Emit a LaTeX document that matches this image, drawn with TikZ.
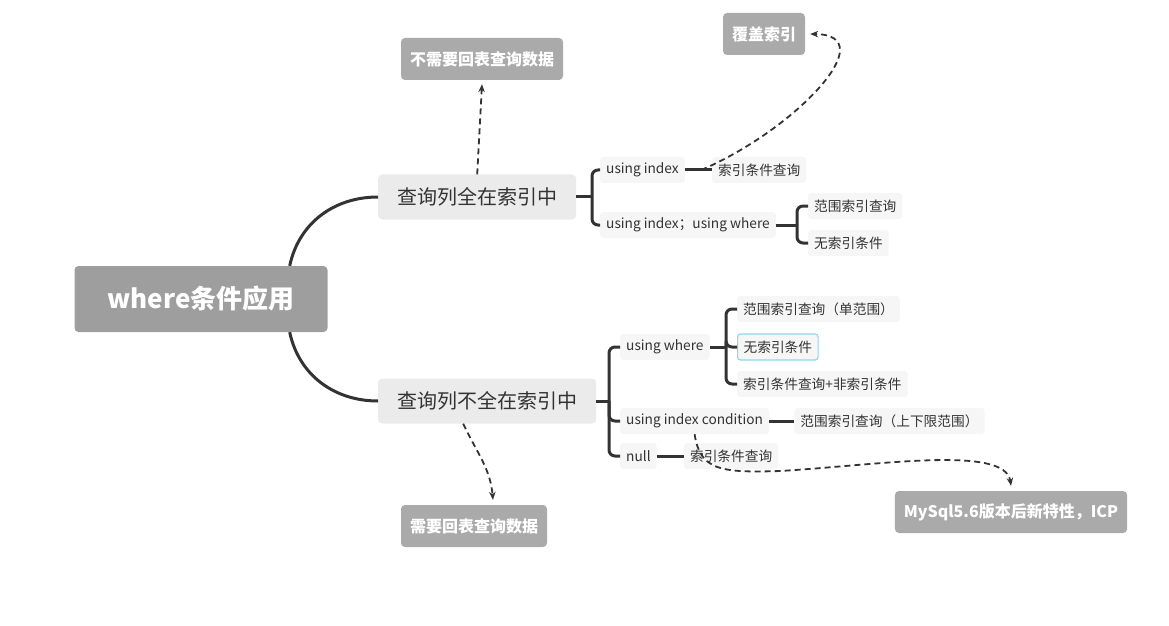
\documentclass[tikz,border=0pt]{standalone}
\usepackage{fontspec}
\setmainfont{Noto Sans CJK SC}
\usetikzlibrary{arrows.meta,positioning}

\definecolor{linegray}{HTML}{333333}
\definecolor{textgray}{HTML}{333333}
\definecolor{rootgray}{HTML}{9E9E9E}
\definecolor{topicgray}{HTML}{EBEBEB}
\definecolor{leafgray}{HTML}{F6F6F6}
\definecolor{notegray}{HTML}{AAAAAA}
\definecolor{selblue}{HTML}{8DD7EF}

\begin{document}
\begin{tikzpicture}[x=1pt,y=1pt,
	conn/.style={draw=linegray,line width=3pt,rounded corners=6pt},
	dasharr/.style={draw=linegray,line width=1.8pt,dash pattern=on 6pt off 4pt,-{Stealth[length=8pt,width=6.5pt]}},
	rootbox/.style={fill=rootgray,rounded corners=4pt,text=white,font=\fontsize{26}{30}\selectfont\bfseries,minimum width=253pt,minimum height=66pt},
	topic/.style={fill=topicgray,rounded corners=4pt,text=textgray,font=\fontsize{20}{24}\selectfont,inner xsep=19pt,minimum height=45pt},
	leaf/.style={fill=leafgray,rounded corners=3pt,text=textgray,font=\fontsize{13.7}{16}\selectfont,inner xsep=6pt,minimum height=26pt},
	note/.style={fill=notegray,rounded corners=4pt,text=white,font=\fontsize{16}{19}\selectfont\bfseries,inner xsep=9pt,minimum height=42pt}]
	\useasboundingbox (0,0) rectangle (1169,625);

	% main topics
	\node[rootbox] (root) at (201,326) {where条件应用};
	\node[topic,anchor=west] (q1) at (378,428) {查询列全在索引中};
	\node[topic,anchor=west] (q2) at (378,224) {查询列不全在索引中};

	% summaries
	\node[note] (n1) at (482,566) {不需要回表查询数据};
	\node[note] (cover) at (764,591) {覆盖索引};
	\node[note] (n2) at (474,99) {需要回表查询数据};
	\node[note] (icp) at (1011,113) {MySql5.6版本后新特性，ICP};

	% leaves of q1
	\node[leaf,anchor=west] (ui) at (600,455) {using index};
	\node[leaf,right=27pt of ui] (uic) {索引条件查询};
	\node[leaf,anchor=west] (uiw) at (600,400) {using index；using where};
	\node[leaf,anchor=west] (r1) at (808,419) {范围索引查询};
	\node[leaf,anchor=west] (r2) at (808,382) {无索引条件};

	% leaves of q2
	\node[leaf,anchor=west] (uw) at (620,278) {using where};
	\node[leaf,anchor=west] (w1) at (737,316) {范围索引查询（单范围）};
	\node[leaf,anchor=west,draw=selblue,line width=1.2pt] (w2) at (737,278) {无索引条件};
	\node[leaf,anchor=west] (w3) at (737,241) {索引条件查询+非索引条件};
	\node[leaf,anchor=west] (uicd) at (620,204) {using index condition};
	\node[leaf,right=25pt of uicd] (c1) {范围索引查询（上下限范围）};
	\node[leaf,anchor=west] (nl) at (620,169) {null};
	\node[leaf,right=27pt of nl] (n3) {索引条件查询};

	% root to topics
	\draw[conn] ([xshift=-38pt]root.north east) to[out=78,in=180] (q1.west);
	\draw[conn] ([xshift=-38pt]root.south east) to[out=-78,in=180] (q2.west);

	% brackets
	\path (ui.west |- q1.east) ++(-8,0) coordinate (j1);
	\path (uw.west |- q2.east) ++(-11,0) coordinate (j2);
	\path (r1.west |- uiw.east) ++(-11,0) coordinate (j3);
	\path (w1.west |- uw.east) ++(-11,0) coordinate (j4);
	\draw[conn] (q1.east) -- (j1);
	\draw[conn] (q2.east) -- (j2);
	\draw[conn] (uiw.east) -- (j3);
	\draw[conn] (uw.east) -- (j4);
	\foreach \c in {ui,uiw}
		\draw[conn] (j1) |- (\c.west);
	\foreach \c in {uw,uicd,nl}
		\draw[conn] (j2) |- (\c.west);
	\foreach \c in {r1,r2}
		\draw[conn] (j3) |- (\c.west);
	\foreach \c in {w1,w2,w3}
		\draw[conn] (j4) |- (\c.west);
	\draw[conn] (ui.east) -- (uic.west);
	\draw[conn] (uicd.east) -- (c1.west);
	\draw[conn] (nl.east) -- (n3.west);

	% summary arrows
	\path (ui.east) -- coordinate[pos=0.6] (k1) (uic.west);
	\draw[dasharr] (q1.north) -- ([yshift=-4pt]n1.south);
	\draw[dasharr] (k1) .. controls (795,495) and (885,590) .. ([xshift=5pt]cover.east);
	\draw[dasharr] ([xshift=-24pt]q2.south) to[out=-65,in=95] ([xshift=19pt,yshift=5pt]n2.north);
	\draw[dasharr] (uicd.south) .. controls (700,155) and (720,152) .. (780,154)
		.. controls (880,160) and (1005,180) .. ([yshift=5pt]icp.north);
\end{tikzpicture}
\end{document}
